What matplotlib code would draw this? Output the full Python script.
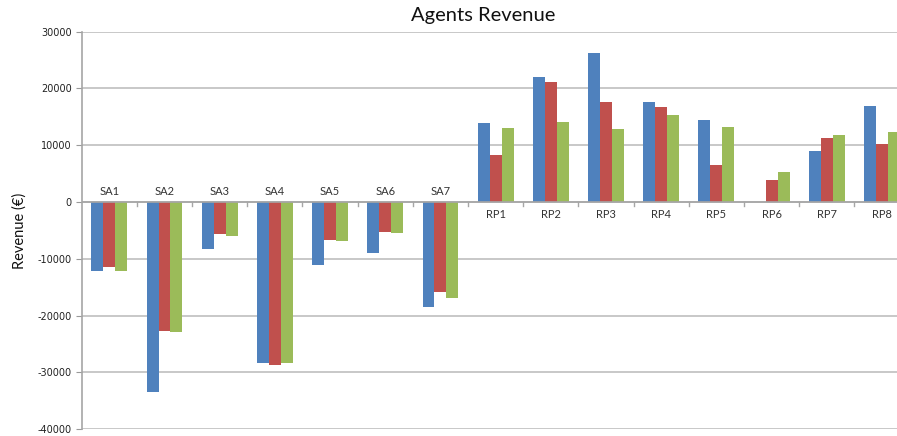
import matplotlib
matplotlib.use("Agg")
import matplotlib.pyplot as plt
import numpy as np
from matplotlib.transforms import offset_copy

categories = ["SA1", "SA2", "SA3", "SA4", "SA5", "SA6", "SA7",
              "RP1", "RP2", "RP3", "RP4", "RP5", "RP6", "RP7", "RP8"]
series_blue = [-12100, -33400, -8200, -28300, -11100, -8900, -18500,
               13900, 22000, 26200, 17700, 14400, 0, 9000, 16900]
series_red = [-11500, -22700, -5700, -28600, -6750, -5300, -15850,
              8300, 21200, 17700, 16700, 6500, 3800, 11300, 10300]
series_green = [-12200, -22800, -6050, -28300, -6900, -5400, -16850,
                13100, 14100, 12900, 15400, 13250, 5300, 11800, 12400]
yticks = [-40000, -30000, -20000, -10000, 0, 10000, 20000, 30000]

colors = ["#4F81BD", "#C0504D", "#9BBB59"]

fig = plt.figure(figsize=(8.97, 4.36), dpi=100)
ax = fig.add_axes([0.0911, 0.0154, 0.923, 0.912])

x = np.arange(len(categories))
w = 0.217
for i, (vals, c) in enumerate(zip([series_blue, series_red, series_green], colors)):
    ax.bar(x + (i - 1) * w, vals, width=w, color=c, edgecolor="none", zorder=3)

ax.set_xlim(-0.5, len(categories) - 0.5)
ax.set_ylim(-40000, 30000)
ax.set_yticks(yticks)
ax.set_yticklabels([str(v) for v in yticks], fontsize=7, color="#222222")
ax.tick_params(axis="y", direction="out", length=4, color="#999999", pad=3)
ax.grid(axis="y", color="#BFBFBF", linewidth=1.2, zorder=0)
ax.set_axisbelow(True)

for s in ["top", "right", "bottom"]:
    ax.spines[s].set_visible(False)
ax.spines["left"].set_color("#A6A6A6")
ax.spines["left"].set_linewidth(1.2)

ax.set_xticks([])
ax.axhline(0, color="#A6A6A6", linewidth=1.2, zorder=4)
# category boundary ticks below zero line
for b in np.arange(0.5, len(categories) - 0.5, 1.0):
    ax.plot([b, b], [0, -700], color="#A6A6A6", linewidth=1.0, zorder=4, clip_on=False)

for xi, lab in zip(x, categories):
    if lab.startswith("SA"):
        tr = offset_copy(ax.transData, fig=fig, x=0, y=4, units="points")
        ax.text(xi, 0, lab, transform=tr, ha="center", va="bottom",
                fontsize=8, family="Lato", color="#333333")
    else:
        tr = offset_copy(ax.transData, fig=fig, x=0, y=-5, units="points")
        ax.text(xi, 0, lab, transform=tr, ha="center", va="top",
                fontsize=8, family="Lato", color="#333333")

ax.set_ylabel("Revenue (€)", fontsize=10.5, family="Lato", labelpad=8, color="#111111")
fig.text(0.539, 0.965, "Agents Revenue", ha="center", va="center",
         fontsize=14.5, family="Lato", color="#111111")

fig.savefig("out.png", dpi=100)
